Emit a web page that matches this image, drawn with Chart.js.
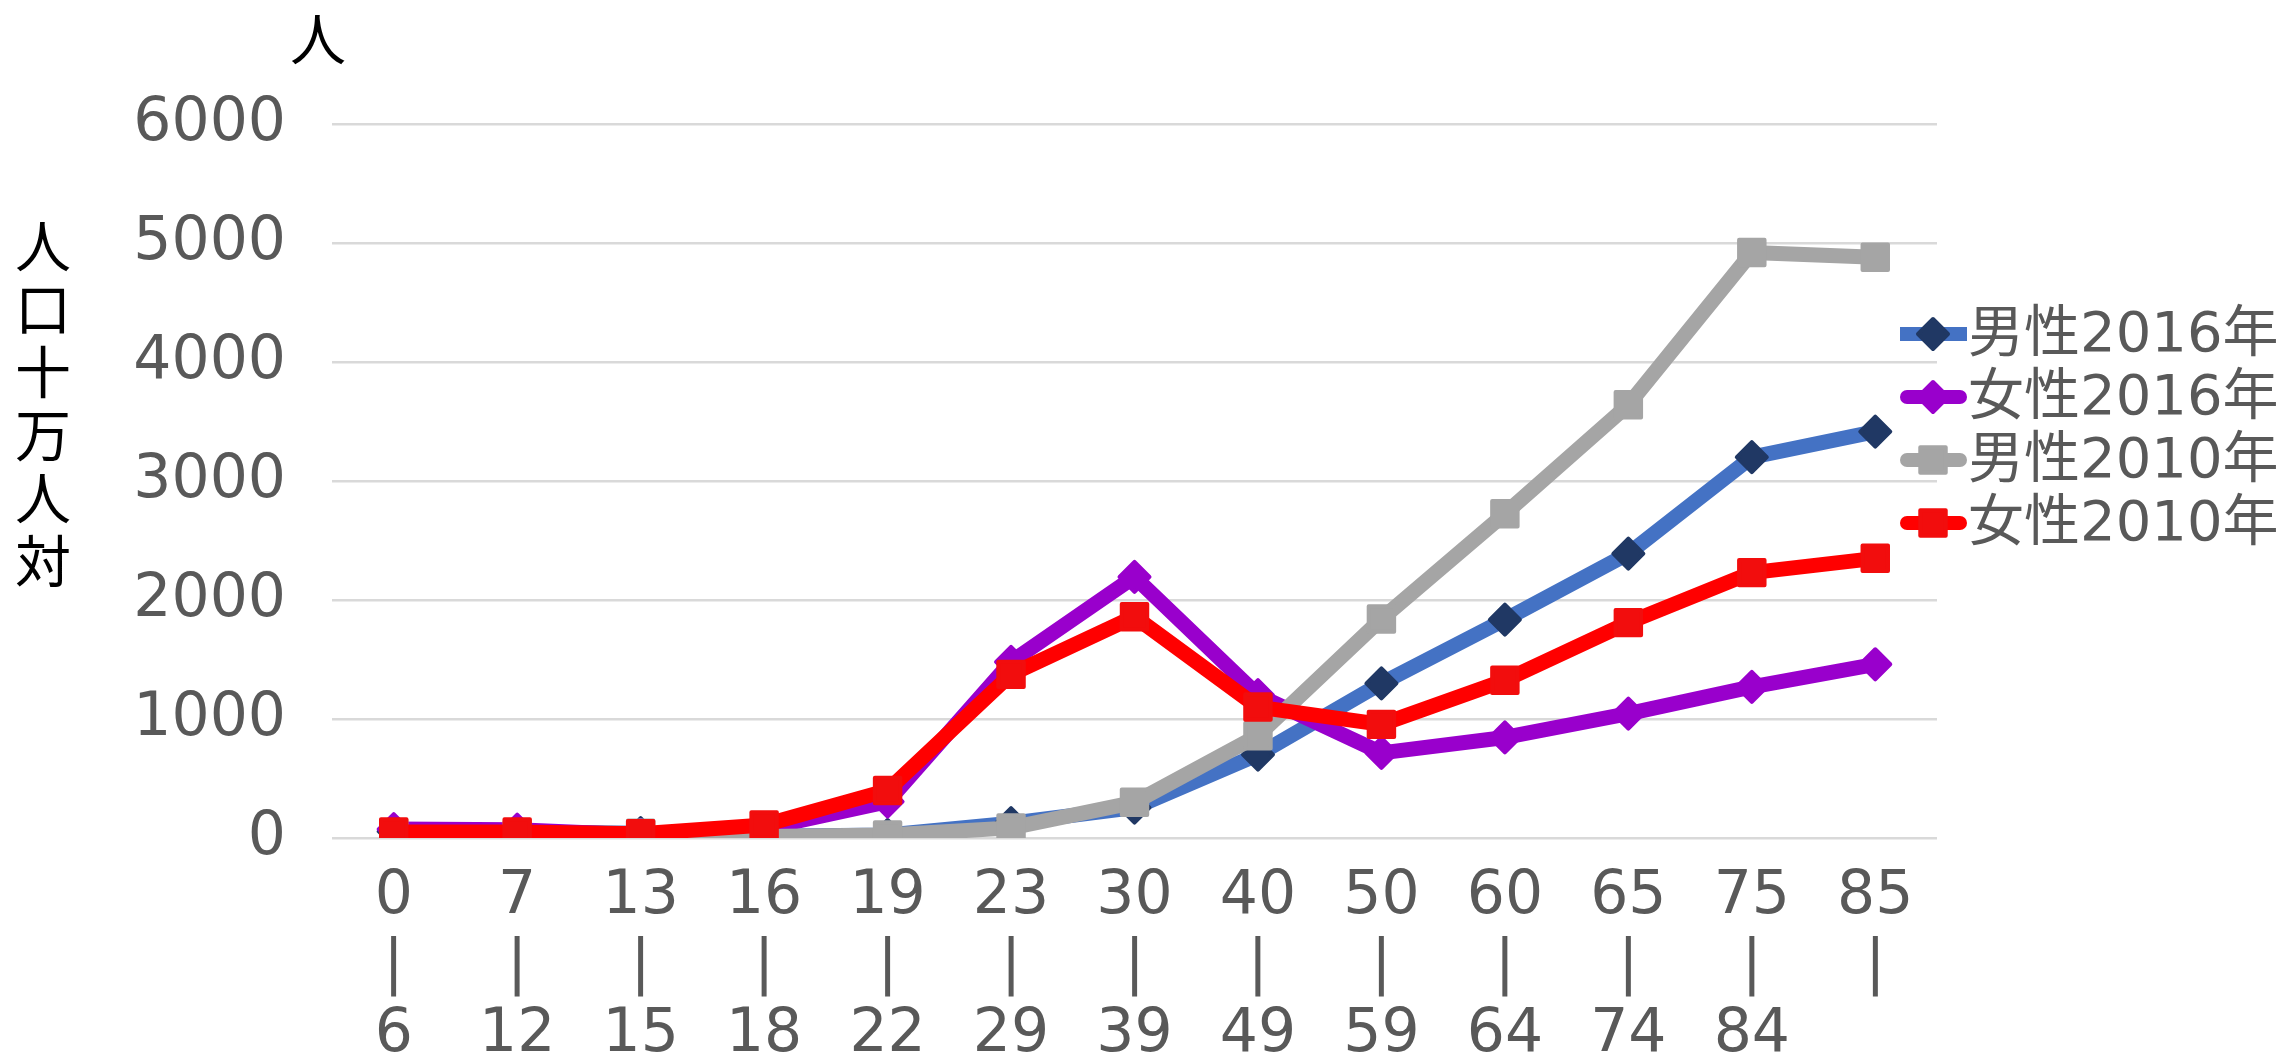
<!DOCTYPE html>
<html lang="ja">
<head>
<meta charset="utf-8">
<title>年齢階級別 人口十万人対</title>
<script src="https://cdn.jsdelivr.net/npm/chart.js@4.4.1/dist/chart.umd.min.js"></script>
<style>
  html, body { margin: 0; padding: 0; background: #ffffff; }
  canvas { display: block; }
</style>
</head>
<body>
<canvas id="chart" width="2286" height="1063"></canvas>
<script>
// Age groups (each label is stacked: lower bound, bar, upper bound)
const ageGroups = [
  ['0', '|', '6'], ['7', '|', '12'], ['13', '|', '15'], ['16', '|', '18'],
  ['19', '|', '22'], ['23', '|', '29'], ['30', '|', '39'], ['40', '|', '49'],
  ['50', '|', '59'], ['60', '|', '64'], ['65', '|', '74'], ['75', '|', '84'],
  ['85', '|']
];

// Rates per 100,000 population
const male2016   = [55, 50, 40, 15, 25, 125, 255, 700, 1300, 1835, 2390, 3200, 3415];
const female2016 = [75, 70, 25, 80, 305, 1480, 2195, 1200, 715, 845, 1045, 1270, 1460];
const male2010   = [45, 30, 40, 12, 25, 85, 300, 860, 1840, 2725, 3640, 4920, 4880];
const female2010 = [50, 50, 35, 110, 400, 1375, 1860, 1100, 955, 1325, 1810, 2230, 2350];

const seriesNames = ['男性2016年', '女性2016年', '男性2010年', '女性2010年'];

const yTicks = { min: 0, max: 6000, step: 1000 };
const unitLabel = '人';
const yTitle = '人口十万人対';

const tickFont = "'DejaVu Sans', 'Noto Sans CJK JP', sans-serif";
const cjkFont = "'Noto Sans CJK JP', 'DejaVu Sans', sans-serif";

function series(label, data, line, marker, style, radius, cap, order) {
  return {
    label, data, order,
    borderColor: line,
    backgroundColor: marker,
    pointBackgroundColor: marker,
    pointBorderColor: marker,
    pointBorderWidth: 4,
    pointStyle: style,
    pointRadius: radius,
    pointHoverRadius: radius,
    borderWidth: 15,
    borderCapStyle: cap,
    borderJoinStyle: 'round',
    tension: 0,
    fill: false
  };
}

// Draws the unit label, the stacked vertical axis title and the legend
const decorations = {
  id: 'decorations',
  beforeDatasetsDraw(chart) {
    chart.ctx.lineJoin = 'round';
  },
  afterDraw(chart) {
    const ctx = chart.ctx;
    ctx.save();
    ctx.fillStyle = '#000000';
    ctx.font = "56px " + cjkFont;
    ctx.textAlign = 'center';
    ctx.textBaseline = 'middle';
    ctx.fillText(unitLabel, 318, 39);
    Array.from(yTitle).forEach((ch, i) => {
      ctx.fillText(ch, 43, 246 + i * 63);
    });

    // legend: line sample with marker, then the series name
    chart.data.datasets.forEach((ds, i) => {
      const y = 334 + i * 63;
      ctx.save();
      ctx.strokeStyle = ds.borderColor;
      ctx.lineWidth = 14;
      ctx.lineCap = ds.borderCapStyle;
      ctx.beginPath();
      ctx.moveTo(ds.borderCapStyle === 'round' ? 1907 : 1900, y);
      ctx.lineTo(ds.borderCapStyle === 'round' ? 1960 : 1967, y);
      ctx.stroke();
      ctx.lineJoin = 'round';
      ctx.fillStyle = ds.pointBackgroundColor;
      ctx.strokeStyle = ds.pointBorderColor;
      ctx.lineWidth = ds.pointBorderWidth;
      Chart.helpers.drawPoint(ctx, {
        pointStyle: ds.pointStyle, radius: ds.pointRadius, rotation: 0,
        borderWidth: ds.pointBorderWidth
      }, 1933, y);
      ctx.restore();
      ctx.fillStyle = '#595959';
      ctx.font = "56px " + tickFont;
      ctx.textAlign = 'left';
      ctx.textBaseline = 'middle';
      ctx.fillText(ds.label, 1968, y + 2);
    });
    ctx.restore();
  }
};

new Chart(document.getElementById('chart'), {
  type: 'line',
  data: {
    labels: ageGroups,
    datasets: [
      series(seriesNames[0], male2016, '#4472C4', '#203864', 'rectRot', 15, 'butt', 3),
      series(seriesNames[1], female2016, '#9900CC', '#9900CC', 'rectRot', 15, 'round', 2),
      series(seriesNames[2], male2010, '#A5A5A5', '#A5A5A5', 'rect', 18, 'round', 1),
      series(seriesNames[3], female2010, '#FF0000', '#F20D0D', 'rect', 18, 'round', 0)
    ]
  },
  options: {
    responsive: false,
    animation: false,
    events: [],
    layout: { padding: { left: 0, right: 349, top: 124, bottom: 0 } },
    plugins: {
      legend: { display: false },
      tooltip: { enabled: false },
      title: { display: false }
    },
    scales: {
      x: {
        type: 'category',
        offset: true,
        grid: { display: false, drawTicks: false },
        border: { display: false },
        ticks: {
          color: '#595959',
          font: { family: tickFont, size: 60, lineHeight: 1.15 },
          padding: 25,
          maxRotation: 0,
          minRotation: 0,
          autoSkip: false
        },
        afterFit(scale) { scale.height = 225; }
      },
      y: {
        min: yTicks.min,
        max: yTicks.max,
        grid: { color: '#D9D9D9', lineWidth: 2.5, drawTicks: false },
        border: { display: false },
        ticks: {
          stepSize: yTicks.step,
          color: '#595959',
          font: { family: tickFont, size: 60 },
          padding: 46,
          callback: (value) => String(value)
        },
        afterFit(scale) { scale.width = 332; }
      }
    }
  },
  plugins: [decorations]
});
</script>
</body>
</html>
